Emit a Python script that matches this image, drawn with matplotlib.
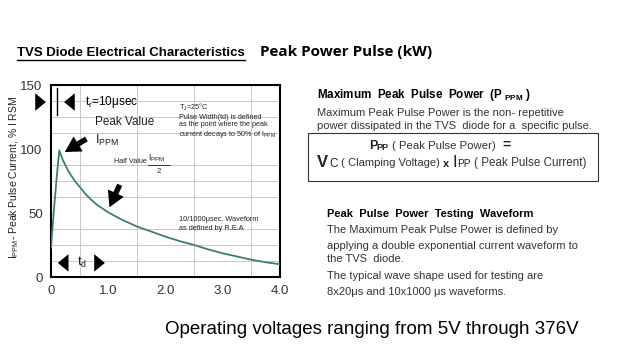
import matplotlib
matplotlib.use("Agg")
import matplotlib.pyplot as plt
from matplotlib.patches import Rectangle

plt.rcParams['font.family'] = ['Liberation Sans', 'DejaVu Sans']
plt.rcParams['mathtext.fontset'] = 'custom'
plt.rcParams['mathtext.rm'] = 'Liberation Sans'
plt.rcParams['mathtext.it'] = 'Liberation Sans'

# 10/1000 us test waveform
time_ms = [0, 0.05, 0.1, 0.145, 0.2, 0.3, 0.4, 0.5, 0.6, 0.7, 0.8, 0.9, 1.0,
           1.25, 1.5, 1.75, 2.0, 2.25, 2.5, 2.75, 3.0, 3.25, 3.5, 3.75, 4.0]
current_pct = [23, 52, 78, 99, 92, 83, 76, 70.5, 65, 60.5, 56.5, 53.5, 50.5,
               44.5, 39.5, 35.5, 31.5, 28, 25, 21.5, 18.5, 16, 13.5, 11.5, 10]

x_ticks = [0, 1.0, 2.0, 3.0, 4.0]
x_ticklabels = ["0", "1.0", "2.0", "3.0", "4.0"]
y_ticks = [0, 50, 100, 150]

W, H = 640, 360


def fx(px):
    return px / W


def fy(py):
    return 1 - py / H


fig = plt.figure(figsize=(6.4, 3.6), dpi=100)
ax = fig.add_axes([fx(51), fy(277), (280 - 51) / W, (277 - 85) / H])

ax.plot(time_ms, current_pct, color="#3d7d74", lw=1.3, zorder=3)
ax.set_xlim(0, 4.0)
ax.set_ylim(0, 150)

ax.set_xticks([i * 0.5 for i in range(9)], minor=True)
ax.set_yticks([i * 12.5 for i in range(13)], minor=True)
ax.grid(which="minor", color="#c8c8c8", lw=0.7)
ax.set_xticks(x_ticks)
ax.set_xticklabels(x_ticklabels)
ax.set_yticks(y_ticks)
ax.tick_params(which="both", length=0, labelsize=9.5, colors="#333333", pad=6)
for s in ax.spines.values():
    s.set_linewidth(1.5)
    s.set_color("black")

ax.set_ylabel("I$_{\\mathregular{PPM}}$- Peak Pulse Current, % I RSM", fontsize=7.5,
              color="#222222")
ax.yaxis.set_label_coords(-0.133, 0.52)

arrow = dict(arrowstyle="simple,head_width=0.9,head_length=0.55,tail_width=0.38",
             color="black", lw=0, mutation_scale=14)
big_arrow = dict(arrowstyle="simple,head_width=0.9,head_length=0.8,tail_width=0.28",
                 color="black", lw=0, mutation_scale=14)

# rise time marker
ax.annotate("", xy=(-0.04, 136.7), xytext=(-0.29, 136.7), arrowprops=arrow,
            annotation_clip=False)
ax.plot([0.105, 0.105], [126.5, 147.6], color="black", lw=1)
ax.annotate("", xy=(0.18, 136.7), xytext=(0.44, 136.7), arrowprops=arrow)
ax.text(0.59, 136.7, "t$_\\mathregular{r}$=10μsec", fontsize=8.5, va="center")

# peak value
ax.text(0.77, 121, "Peak Value", fontsize=8.5, va="center", color="#222222")
ax.text(0.77, 107, "I$_\\mathregular{PPM}$", fontsize=9, va="center", color="#222222")
ax.annotate("", xy=(0.2, 96.5), xytext=(0.66, 109), arrowprops=big_arrow)

# half value
ax.text(1.1, 90.3, "Half Value", fontsize=5.2, va="center", color="#222222")
ax.text(1.69, 92.5, "I$_\\mathregular{PPM}$", fontsize=6.3, va="center",
        color="#222222")
ax.plot([1.69, 2.07], [87.5, 87.5], color="#222222", lw=0.6)
ax.text(1.88, 82.5, "2", fontsize=5.5, va="center", ha="center", color="#222222")
ax.annotate("", xy=(1.0, 52.5), xytext=(1.22, 74), arrowprops=big_arrow)

ax.text(2.24, 137, "T$_\\mathregular{J}$=25°C\nPulse Width(td) is defined\n"
        "as the point where the peak\ncurrent decays to 50% of I$_\\mathregular{PPM}$",
        fontsize=5.2, va="top", linespacing=1.15, color="#222222")
ax.text(2.24, 47.5, "10/1000μsec. Waveform\nas defined by R.E.A", fontsize=5.3,
        va="top", linespacing=1.3, color="#222222")

# pulse width marker
ax.annotate("", xy=(0.07, 11), xytext=(0.35, 11), arrowprops=arrow)
ax.text(0.45, 11, "t$_\\mathregular{d}$", fontsize=9, va="center", color="#222222")
ax.annotate("", xy=(0.99, 11), xytext=(0.72, 11), arrowprops=arrow)

# headings
t1 = fig.text(fx(17), fy(53), "TVS Diode Electrical Characteristics", fontsize=9.5,
              fontweight="bold", va="center")
fig.canvas.draw()
bb = t1.get_window_extent()
fig.add_artist(plt.Line2D([bb.x0 / W, bb.x1 / W], [fy(60), fy(60)], color="black", lw=1))
fig.text(fx(260), fy(52), "Peak Power Pulse (kW)", fontsize=11, fontweight="bold",
         va="center", family=["Open Sans", "DejaVu Sans"])

fig.text(fx(317), fy(95), "Maximum  Peak  Pulse  Power  (P $_\\mathregular{PPM}$ )",
         fontsize=8.4, fontweight="bold", va="center")
fig.text(fx(317), fy(113), "Maximum Peak Pulse Power is the non- repetitive",
         fontsize=8, va="center", color="#333333")
fig.text(fx(317), fy(126), "power dissipated in the TVS  diode for a  specific pulse.",
         fontsize=8, va="center", color="#333333")
fig.add_artist(Rectangle((fx(308), fy(181)), (598 - 308) / W, (181 - 133) / H,
                         transform=fig.transFigure, fill=False, ec="#333333", lw=0.8))
fig.text(fx(369), fy(146), "P", fontsize=9, fontweight="bold", va="center",
         color="#222222")
fig.text(fx(376), fy(147), "PP", fontsize=6.5, fontweight="bold", va="center",
         color="#222222")
fig.text(fx(392), fy(146), "( Peak Pulse Power)", fontsize=8.2, va="center",
         color="#333333")
fig.text(fx(502), fy(145), "=", fontsize=10, fontweight="bold", va="center",
         color="#222222")
fig.text(fx(317), fy(163), "V", fontsize=12, fontweight="bold", va="center",
         color="#222222")
fig.text(fx(329), fy(164), "C", fontsize=8.5, va="center", color="#222222")
fig.text(fx(341), fy(163), "( Clamping Voltage)", fontsize=8.1, va="center",
         color="#333333")
fig.text(fx(443), fy(164), "x", fontsize=8, fontweight="bold", va="center",
         color="#222222")
fig.text(fx(453), fy(163), "I", fontsize=12, va="center", color="#222222")
fig.text(fx(457.5), fy(164), "PP", fontsize=7.2, va="center", color="#222222")
fig.text(fx(474), fy(163), "( Peak Pulse Current)", fontsize=8.4, va="center",
         color="#333333")

fig.text(fx(327), fy(214), "Peak  Pulse  Power  Testing  Waveform", fontsize=8,
         fontweight="bold", va="center")
body = ["The Maximum Peak Pulse Power is defined by",
        "applying a double exponential current waveform to",
        "the TVS  diode.",
        "The typical wave shape used for testing are",
        "8x20μs and 10x1000 μs waveforms."]
for y, line in zip([230, 246, 259, 276, 292], body):
    fig.text(fx(327), fy(y), line, fontsize=8, va="center", color="#333333")

fig.text(fx(165), fy(330), "Operating voltages ranging from 5V through 376V",
         fontsize=13.5, va="center")

fig.savefig("out.png", dpi=100)
